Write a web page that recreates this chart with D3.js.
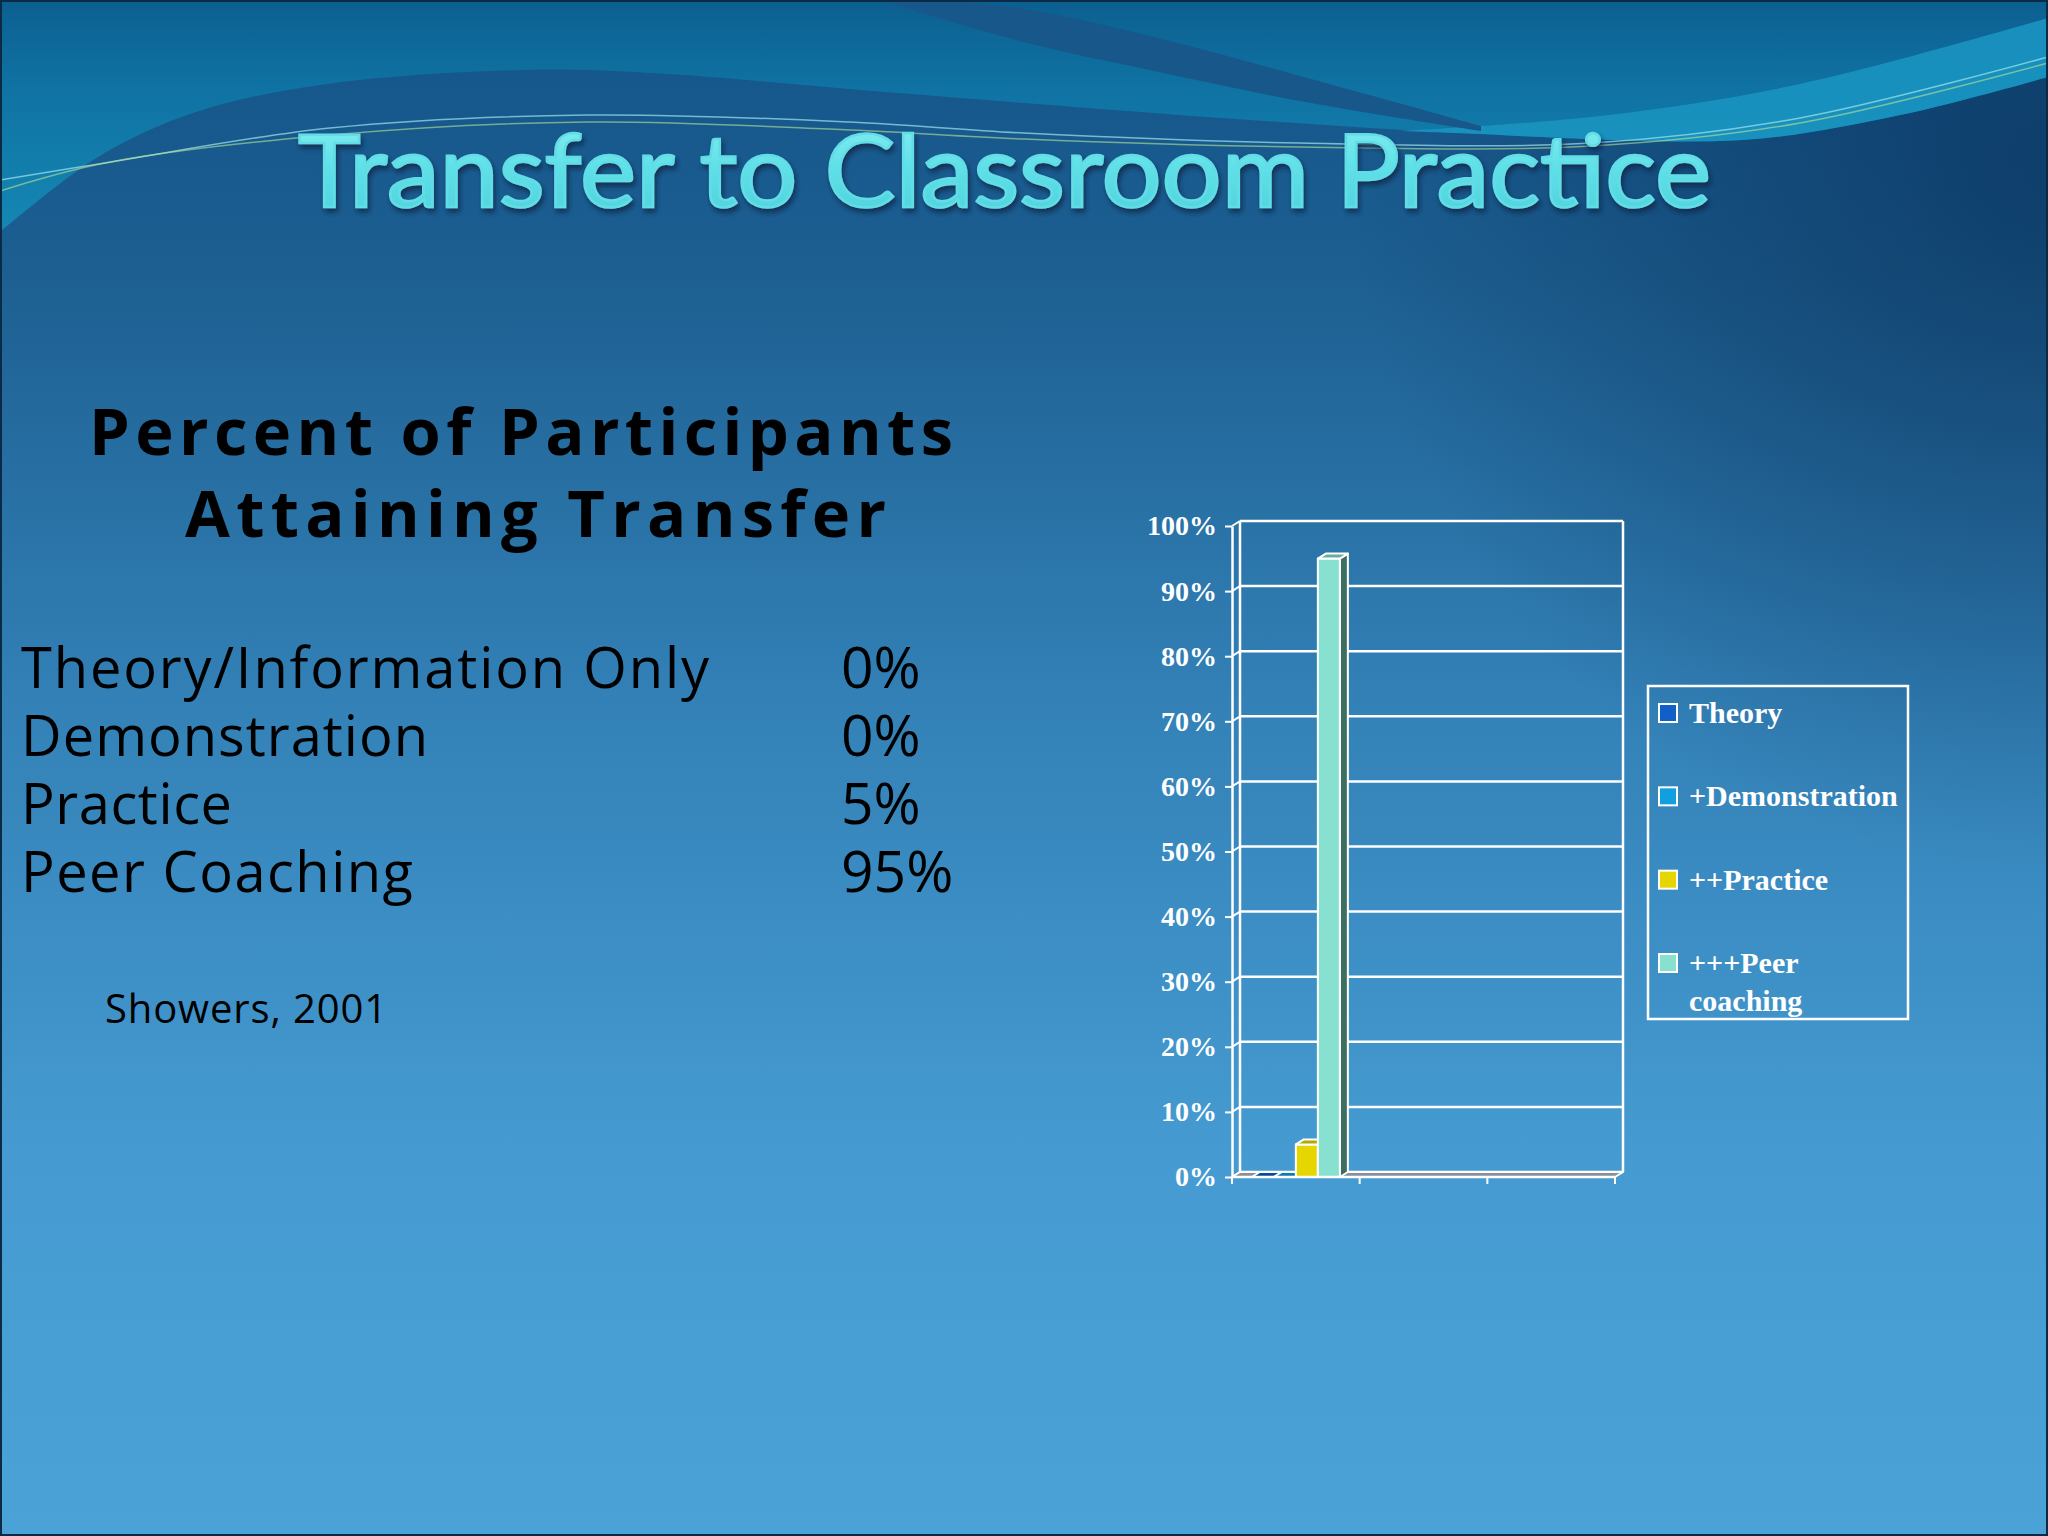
<!DOCTYPE html>
<html>
<head>
<meta charset="utf-8">
<script src="https://cdn.jsdelivr.net/npm/d3@7"></script>
<style>
html, body { margin: 0; padding: 0; background: #2a74aa; }
svg { display: block; }
</style>
</head>
<body>
<script>
// ---- data ----
var categories = ["1", "2", "3"];
var seriesNames = ["Theory", "+Demonstration", "++Practice", "+++Peer coaching"];
var theoryValues = [0, null, null];
var demonstrationValues = [0, null, null];
var practiceValues = [5, null, null];
var peerCoachingValues = [95, null, null];
var yTickValues = [0, 10, 20, 30, 40, 50, 60, 70, 80, 90, 100];

var listLabels = ["Theory/Information Only", "Demonstration", "Practice", "Peer Coaching"];
var listValues = [0, 0, 5, 95];

var W = 2048, H = 1536;

var svg = d3.select("body").append("svg")
    .attr("width", W)
    .attr("height", H);

var defs = svg.append("defs");

function gradient(id, attrs, stops) {
    var g = defs.append(attrs.radial ? "radialGradient" : "linearGradient").attr("id", id);
    for (var k in attrs) if (k != "radial") g.attr(k, attrs[k]);
    stops.forEach(function(s) {
        g.append("stop").attr("offset", s[0]).attr("stop-color", s[1])
            .attr("stop-opacity", s[2] == null ? 1 : s[2]);
    });
}

gradient("bg", {x1: 0, y1: 0, x2: 0, y2: 1}, [
    [0, "#13548a"], [0.18, "#1d5f91"], [0.45, "#3280b6"], [0.75, "#459bd1"], [1, "#4aa2d6"]
]);
gradient("darkRight", {radial: true, gradientUnits: "userSpaceOnUse", cx: 2048, cy: 170, r: 700}, [
    [0, "#0b355f", 0.75], [1, "#0b355f", 0]
]);
gradient("teal", {gradientUnits: "userSpaceOnUse", x1: 0, y1: 0, x2: 0, y2: 240}, [
    [0, "#0c5f90"], [0.35, "#0f72a2"], [1, "#1688b5"]
]);
gradient("titleFill", {x1: 0, y1: 0, x2: 0, y2: 1}, [
    [0, "#8cf0f3"], [0.5, "#5fe0e8"], [1, "#4ccfdc"]
]);

var shadow = defs.append("filter").attr("id", "titleShadow")
    .attr("x", "-5%").attr("y", "-20%").attr("width", "110%").attr("height", "150%");
shadow.append("feDropShadow").attr("dx", 2).attr("dy", 4).attr("stdDeviation", 2.5)
    .attr("flood-color", "#0a2440").attr("flood-opacity", 0.75);

// ---- background ----
svg.append("rect").attr("width", W).attr("height", H).attr("fill", "url(#bg)");
svg.append("rect").attr("width", W).attr("height", H).attr("fill", "url(#darkRight)");

var curve = d3.line().curve(d3.curveCatmullRom);

var waveEdge = [[0, 232], [98, 157], [196, 112], [327, 84], [522, 70], [653, 73], [849, 89],
    [1024, 103], [1250, 120], [1481, 134], [1742, 140], [1900, 115], [2048, 77]];
svg.append("path")
    .attr("d", curve(waveEdge) + "L2048,0L0,0Z")
    .attr("fill", "url(#teal)");

svg.append("path")
    .attr("d", curve([[1400, 131], [1600, 116], [1800, 84], [2048, 18]]) + "L" +
        curve([[2048, 77], [1900, 115], [1742, 140], [1481, 134]]).slice(1) + "Z")
    .attr("fill", "#1a93c0").attr("opacity", 0.9);

svg.append("path")
    .attr("d", curve([[935, 0], [1024, 9], [1150, 36], [1300, 76], [1481, 126]]) + "L" +
        curve([[1481, 131], [1300, 101], [1150, 70], [1024, 42], [880, 0]]).slice(1) + "Z")
    .attr("fill", "#17578a");

svg.append("path")
    .attr("d", curve([[0, 180], [105, 163], [330, 128], [588, 115], [850, 122], [1024, 133],
        [1300, 143], [1592, 143], [1800, 118], [2048, 57]]))
    .attr("fill", "none").attr("stroke", "#9ee4ee").attr("stroke-width", 1.5).attr("opacity", 0.7);
svg.append("path")
    .attr("d", curve([[0, 191], [105, 163], [330, 135], [588, 122], [850, 130], [1024, 139],
        [1300, 147], [1592, 146], [1800, 123], [2048, 63]]))
    .attr("fill", "none").attr("stroke", "#b6e49a").attr("stroke-width", 1.5).attr("opacity", 0.6);

// ---- title ----
svg.append("text")
    .attr("x", 298).attr("y", 207)
    .attr("textLength", 1413).attr("lengthAdjust", "spacingAndGlyphs")
    .style("font-family", "Lato, 'Open Sans', sans-serif")
    .style("font-weight", 400)
    .style("font-size", "100px")
    .attr("fill", "url(#titleFill)")
    .attr("stroke", "#62dde6").attr("stroke-width", 2.5)
    .attr("filter", "url(#titleShadow)")
    .text("Transfer to Classroom Practice");

// ---- left text ----
var heading = svg.append("g")
    .style("font-family", "'Open Sans', 'DejaVu Sans', sans-serif")
    .style("font-weight", 700)
    .style("font-size", "65px")
    .attr("fill", "#000");
heading.append("text").attr("x", 89).attr("y", 455)
    .attr("textLength", 864).attr("lengthAdjust", "spacing")
    .text("Percent of Participants");
heading.append("text").attr("x", 185).attr("y", 537)
    .attr("textLength", 701).attr("lengthAdjust", "spacing")
    .text("Attaining Transfer");

var list = svg.append("g")
    .style("font-family", "'Open Sans', 'DejaVu Sans', sans-serif")
    .style("font-size", "56px")
    .attr("fill", "#000");
var rowY = d3.scalePoint().domain(listLabels).range([688, 892]);
list.selectAll("text.lab").data(listLabels).join("text")
    .attr("class", "lab")
    .attr("x", 21).attr("y", function(d) { return rowY(d); })
    .attr("textLength", function(d, i) { return [688, 407, 211, 392][i]; })
    .attr("lengthAdjust", "spacing")
    .text(function(d) { return d; });
list.selectAll("text.val").data(listValues).join("text")
    .attr("class", "val")
    .attr("x", 841).attr("y", function(d, i) { return rowY(listLabels[i]); })
    .style("font-size", "57px")
    .text(function(d) { return d + "%"; });

svg.append("text")
    .attr("x", 105).attr("y", 1023)
    .attr("textLength", 282).attr("lengthAdjust", "spacing")
    .style("font-family", "'Open Sans', 'DejaVu Sans', sans-serif")
    .style("font-size", "40px")
    .attr("fill", "#000")
    .text("Showers, 2001");

// ---- chart ----
var depth = {dx: 8, dy: 5};
var front = {left: 1232, right: 1615, top: 526, bottom: 1177};

var x0 = d3.scaleBand().domain(categories).range([front.left, front.right]);
var groupW = x0.bandwidth() / 1.45;
var x1 = d3.scaleBand().domain(seriesNames)
    .range([(x0.bandwidth() - groupW) / 2, (x0.bandwidth() + groupW) / 2]);
var y = d3.scaleLinear().domain([0, 100]).range([front.bottom, front.top]);

var seriesData = [
    {name: seriesNames[0], values: theoryValues, front: "#1060c8", top: "#0b4a98", side: "#083a78"},
    {name: seriesNames[1], values: demonstrationValues, front: "#10a0e0", top: "#0b7db0", side: "#08628a"},
    {name: seriesNames[2], values: practiceValues, front: "#e6d600", top: "#b5a800", side: "#8a7f00"},
    {name: seriesNames[3], values: peerCoachingValues, front: "#88e0d0", top: "#68ae9e", side: "#3e6e62"}
];

var chart = svg.append("g").attr("class", "chart");
var white = "#ffffff";

// back wall with gridlines
var backL = front.left + depth.dx, backR = front.right + depth.dx;
chart.selectAll("line.grid").data(yTickValues).join("line")
    .attr("class", "grid")
    .attr("x1", backL).attr("x2", backR)
    .attr("y1", function(d) { return y(d) - depth.dy; })
    .attr("y2", function(d) { return y(d) - depth.dy; })
    .attr("stroke", white).attr("stroke-width", 2.5);
// side wall connectors
chart.selectAll("line.side").data(yTickValues).join("line")
    .attr("class", "side")
    .attr("x1", front.left).attr("x2", backL)
    .attr("y1", function(d) { return y(d); })
    .attr("y2", function(d) { return y(d) - depth.dy; })
    .attr("stroke", white).attr("stroke-width", 2);
chart.append("line")
    .attr("x1", backL).attr("x2", backL)
    .attr("y1", y(100) - depth.dy).attr("y2", y(0) - depth.dy)
    .attr("stroke", white).attr("stroke-width", 2.5);
chart.append("line")
    .attr("x1", backR).attr("x2", backR)
    .attr("y1", y(100) - depth.dy).attr("y2", y(0) - depth.dy)
    .attr("stroke", white).attr("stroke-width", 2.5);

// floor
function poly(pts) { return "M" + pts.map(function(p) { return p.join(","); }).join("L") + "Z"; }
chart.append("path")
    .attr("d", poly([[front.left, y(0)], [front.right, y(0)],
        [backR, y(0) - depth.dy], [backL, y(0) - depth.dy]]))
    .attr("fill", "#8e8e9a").attr("stroke", white).attr("stroke-width", 2)
    .attr("stroke-linejoin", "round");

// bars
var bars = [];
seriesData.forEach(function(s) {
    s.values.forEach(function(v, i) {
        if (v == null) return;
        bars.push({s: s, cat: categories[i], v: v});
    });
});
bars.sort(function(a, b) {
    return (x0(a.cat) + x1(a.s.name)) - (x0(b.cat) + x1(b.s.name));
});
var barG = chart.selectAll("g.bar").data(bars).join("g").attr("class", "bar");
barG.each(function(d) {
    var g = d3.select(this);
    var xa = x0(d.cat) + x1(d.s.name), xb = xa + x1.bandwidth();
    var yt = y(d.v), yb = y(0);
    var dx = depth.dx, dy = depth.dy;
    if (d.v > 0) {
        g.append("path")
            .attr("d", poly([[xb, yt], [xb + dx, yt - dy], [xb + dx, yb - dy], [xb, yb]]))
            .attr("fill", d.s.side);
        g.append("rect")
            .attr("x", xa).attr("y", yt).attr("width", xb - xa).attr("height", yb - yt)
            .attr("fill", d.s.front);
    }
    g.append("path")
        .attr("d", poly([[xa, yt], [xa + dx, yt - dy], [xb + dx, yt - dy], [xb, yt]]))
        .attr("fill", d.s.top);
    g.selectAll("path,rect")
        .attr("stroke", white).attr("stroke-width", 2).attr("stroke-linejoin", "round");
});

// y axis
var yAxis = chart.append("g")
    .attr("transform", "translate(" + front.left + ",0)")
    .call(d3.axisLeft(y).tickValues(yTickValues).tickSize(7).tickSizeOuter(0).tickPadding(8)
        .tickFormat(function(d) { return d + "%"; }));
yAxis.select(".domain").attr("stroke", white).attr("stroke-width", 2.5);
yAxis.selectAll(".tick line").attr("stroke", white).attr("stroke-width", 2);
yAxis.selectAll(".tick text")
    .attr("fill", white)
    .style("font-family", "'Liberation Serif', 'Times New Roman', serif")
    .style("font-weight", 700)
    .style("font-size", "28px");

// x axis (no labels, ticks at category boundaries)
var xEdges = categories.map(function(c) { return x0(c); }).concat([front.right]);
chart.append("line")
    .attr("x1", front.left).attr("x2", front.right)
    .attr("y1", y(0)).attr("y2", y(0))
    .attr("stroke", white).attr("stroke-width", 2.5);
chart.selectAll("line.xtick").data(xEdges).join("line")
    .attr("class", "xtick")
    .attr("x1", function(d) { return d; }).attr("x2", function(d) { return d; })
    .attr("y1", y(0)).attr("y2", y(0) + 7)
    .attr("stroke", white).attr("stroke-width", 2);

// legend
var legend = svg.append("g").attr("class", "legend");
legend.append("rect")
    .attr("x", 1648).attr("y", 686).attr("width", 260).attr("height", 333)
    .attr("fill", "none").attr("stroke", white).attr("stroke-width", 2.5);
var legendY = d3.scalePoint().domain(seriesNames).range([713, 963]);
var item = legend.selectAll("g.item").data(seriesData).join("g").attr("class", "item")
    .attr("transform", function(d) { return "translate(1659," + legendY(d.name) + ")"; });
item.append("rect")
    .attr("x", 0).attr("y", -9).attr("width", 18).attr("height", 18)
    .attr("fill", function(d) { return d.front; })
    .attr("stroke", white).attr("stroke-width", 2);
item.append("text")
    .attr("x", 30).attr("y", 10)
    .attr("fill", white)
    .style("font-family", "'Liberation Serif', 'Times New Roman', serif")
    .style("font-weight", 700)
    .style("font-size", "30px")
    .each(function(d) {
        var t = d3.select(this);
        var parts = d.name == "+++Peer coaching" ? ["+++Peer", "coaching"] : [d.name];
        parts.forEach(function(p, i) {
            t.append("tspan").attr("x", 30).attr("dy", i ? 38 : 0).text(p);
        });
    });

// slide border
svg.append("rect")
    .attr("x", 1).attr("y", 1).attr("width", W - 2).attr("height", H - 2)
    .attr("fill", "none").attr("stroke", "#0b2a44").attr("stroke-width", 2);
</script>
</body>
</html>
